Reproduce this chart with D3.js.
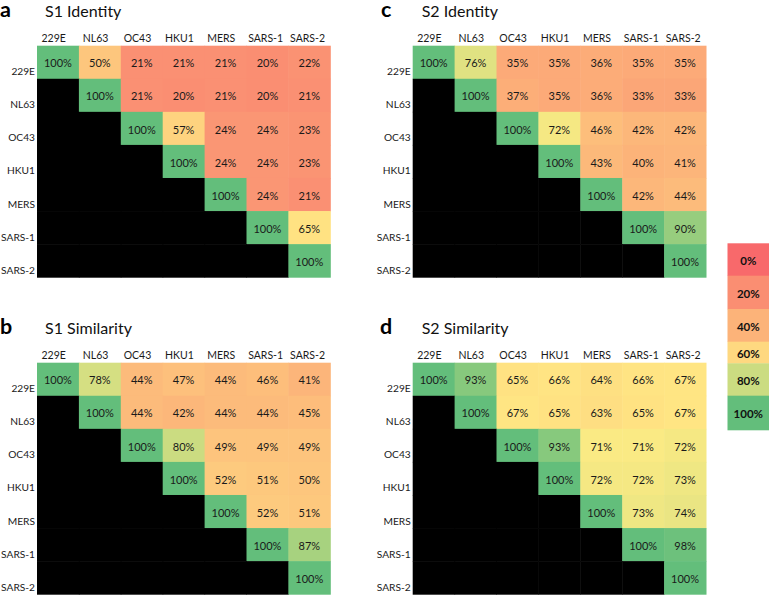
<!DOCTYPE html>
<html>
<head>
<meta charset="utf-8">
<script src="https://cdn.jsdelivr.net/npm/d3@7"></script>
<style>
  html, body { margin: 0; padding: 0; background: #fff; }
  svg { display: block; font-family: Lato, "Open Sans", sans-serif; }
</style>
</head>
<body>
<svg id="chart" width="770" height="596"></svg>
<script>
// ---- data ----
const strains = ["229E", "NL63", "OC43", "HKU1", "MERS", "SARS-1", "SARS-2"];

// upper-triangle values (row i, starting at column i), in percent
const s1Identity = [
  [100, 50, 21, 21, 21, 20, 22],
  [100, 21, 20, 21, 20, 21],
  [100, 57, 24, 24, 23],
  [100, 24, 24, 23],
  [100, 24, 21],
  [100, 65],
  [100]
];
const s1Similarity = [
  [100, 78, 44, 47, 44, 46, 41],
  [100, 44, 42, 44, 44, 45],
  [100, 80, 49, 49, 49],
  [100, 52, 51, 50],
  [100, 52, 51],
  [100, 87],
  [100]
];
const s2Identity = [
  [100, 76, 35, 35, 36, 35, 35],
  [100, 37, 35, 36, 33, 33],
  [100, 72, 46, 42, 42],
  [100, 43, 40, 41],
  [100, 42, 44],
  [100, 90],
  [100]
];
const s2Similarity = [
  [100, 93, 65, 66, 64, 66, 67],
  [100, 67, 65, 63, 65, 67],
  [100, 93, 71, 71, 72],
  [100, 72, 72, 73],
  [100, 73, 74],
  [100, 98],
  [100]
];

const panelLetters = ["a", "b", "c", "d"];
const panelTitles = ["S1 Identity", "S1 Similarity", "S2 Identity", "S2 Similarity"];
const legendValues = [0, 20, 40, 60, 80, 100];
const legendLabels = ["0%", "20%", "40%", "60%", "80%", "100%"];

// ---- scales ----
const color = d3.scaleLinear()
  .domain([0, 70, 100])
  .range(["#F8696B", "#FFEB84", "#63BE7B"])
  .interpolate(d3.interpolateRgb);

const svg = d3.select("#chart");

const gridW = 293.3, gridH = 231.5;
const panels = [
  { data: s1Identity,   x0: 37,    y0: 45.7,  lx: 0,   ly: 17,  ty: 16.5,  tx: 45 },
  { data: s1Similarity, x0: 37,    y0: 362.7, lx: 0,   ly: 334, ty: 333.5, tx: 45 },
  { data: s2Identity,   x0: 412.7, y0: 45.7,  lx: 381, ly: 17,  ty: 16.5,  tx: 421.7 },
  { data: s2Similarity, x0: 412.7, y0: 362.7, lx: 380, ly: 334, ty: 333.5, tx: 421.7 }
];

const x = d3.scaleBand().domain(strains).range([0, gridW]).padding(0);
const y = d3.scaleBand().domain(strains).range([0, gridH]).padding(0);

panels.forEach((p, pi) => {
  const g = svg.append("g");

  // panel letter and title
  g.append("text")
    .attr("x", p.lx).attr("y", p.ly)
    .attr("font-size", 21.5).attr("font-weight", 700)
    .attr("fill", "#000")
    .text(panelLetters[pi]);
  g.append("text")
    .attr("x", p.tx).attr("y", p.ty)
    .attr("font-size", 16)
    .attr("fill", "#111")
    .text(panelTitles[pi]);

  const grid = g.append("g").attr("transform", `translate(${p.x0},${p.y0})`);

  // build cells
  const cells = [];
  strains.forEach((rs, r) => {
    strains.forEach((cs, c) => {
      const v = c >= r ? p.data[r][c - r] : null;
      cells.push({ row: rs, col: cs, v });
    });
  });

  grid.selectAll("rect.cell")
    .data(cells)
    .join("rect")
    .attr("class", "cell")
    .attr("x", d => x(d.col))
    .attr("y", d => y(d.row))
    .attr("width", x.bandwidth() + 0.5)
    .attr("height", y.bandwidth() + 0.5)
    .attr("fill", d => d.v === null ? "#000" : color(d.v));

  grid.selectAll("text.val")
    .data(cells.filter(d => d.v !== null))
    .join("text")
    .attr("class", "val")
    .attr("x", d => x(d.col) + x.bandwidth() / 2)
    .attr("y", d => y(d.row) + y.bandwidth() / 2 + 5.2)
    .attr("text-anchor", "middle")
    .attr("font-size", 11)
    .attr("fill", "#1a1a1a")
    .text(d => d.v + "%");

  // column labels
  grid.selectAll("text.col")
    .data(strains)
    .join("text")
    .attr("class", "col")
    .attr("x", d => x(d) + x.bandwidth() / 2 - (d.startsWith("SARS") ? 1.8 : 4.3))
    .attr("y", -3.4)
    .attr("text-anchor", "middle")
    .attr("font-size", 10.5)
    .attr("fill", "#1a1a1a")
    .text(d => d);

  // row labels
  grid.selectAll("text.row")
    .data(strains)
    .join("text")
    .attr("class", "row")
    .attr("x", -2)
    .attr("y", d => y(d) + y.bandwidth() - 3.5)
    .attr("text-anchor", "end")
    .attr("font-size", 10.2)
    .attr("fill", "#1a1a1a")
    .text(d => d);
});

// ---- legend ----
const legendBoxes = [
  { y: 243.3, h: 32.4 },
  { y: 275.7, h: 33.3 },
  { y: 309.0, h: 32.7 },
  { y: 341.7, h: 21.6 },
  { y: 363.3, h: 32.4 },
  { y: 395.7, h: 34.3 }
];
const lg = svg.append("g");
lg.selectAll("rect")
  .data(legendValues)
  .join("rect")
  .attr("x", 727.5)
  .attr("y", (d, i) => legendBoxes[i].y)
  .attr("width", 41.5)
  .attr("height", (d, i) => legendBoxes[i].h + 0.3)
  .attr("fill", d => color(d));
lg.selectAll("text")
  .data(legendValues)
  .join("text")
  .attr("x", 748.3)
  .attr("y", (d, i) => legendBoxes[i].y + legendBoxes[i].h / 2 + 5.5)
  .attr("text-anchor", "middle")
  .attr("font-size", 11.5)
  .attr("font-weight", 700)
  .attr("fill", "#111")
  .text((d, i) => legendLabels[i]);
</script>
</body>
</html>
